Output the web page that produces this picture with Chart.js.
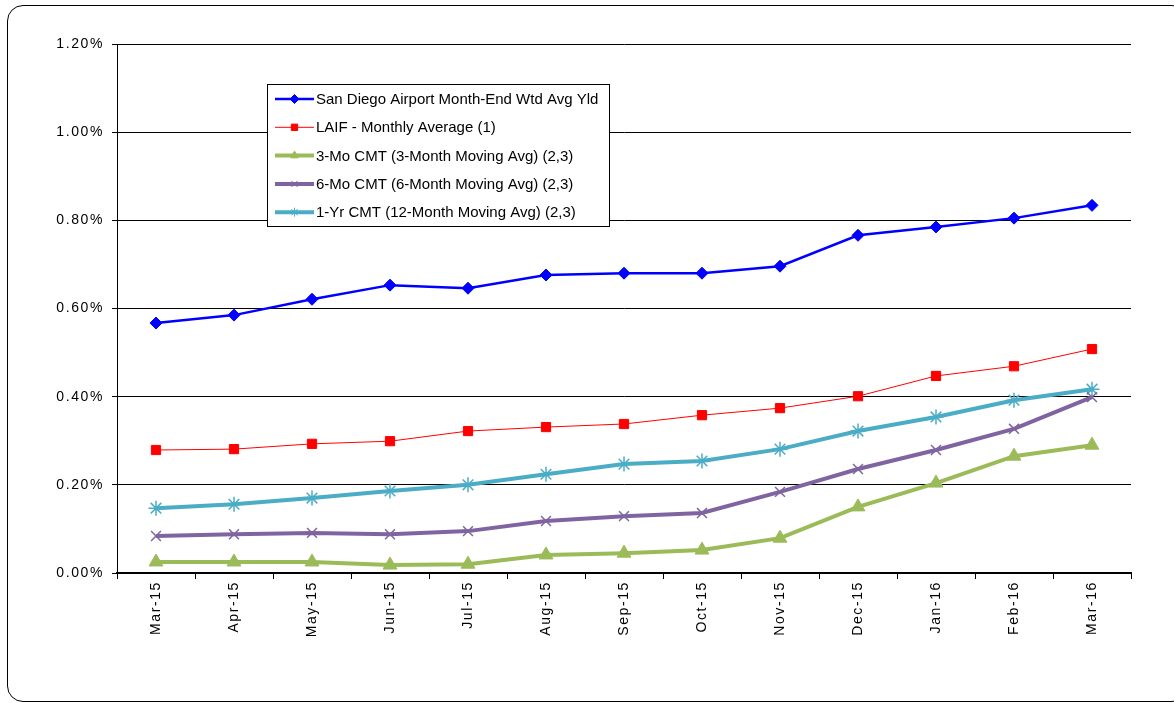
<!DOCTYPE html>
<html>
<head>
<meta charset="utf-8">
<script src="https://cdn.jsdelivr.net/npm/chart.js@4/dist/chart.umd.min.js"></script>
<style>
  html, body { margin: 0; padding: 0; background: #fff; overflow: hidden; }
  #wrap { position: relative; width: 1174px; height: 703px; overflow: hidden; }
  #frame { position: absolute; left: 7px; top: 5px; width: 1181px; height: 697px;
           border: 1px solid #000; border-radius: 16px; box-sizing: border-box; }
  canvas { position: absolute; left: 0; top: 0; }
</style>
</head>
<body>
<div id="wrap">
  <div id="frame"></div>
  <canvas id="chart" width="1174" height="703"></canvas>
</div>
<script>
// data (percent)
const months = ["Mar-15","Apr-15","May-15","Jun-15","Jul-15","Aug-15","Sep-15","Oct-15","Nov-15","Dec-15","Jan-16","Feb-16","Mar-16"];
const sanDiego = [0.567,0.585,0.621,0.653,0.646,0.676,0.680,0.680,0.696,0.766,0.785,0.805,0.834];
const laif     = [0.279,0.281,0.293,0.299,0.322,0.331,0.338,0.358,0.374,0.401,0.447,0.469,0.508];
const cmt3     = [0.025,0.025,0.025,0.018,0.020,0.041,0.045,0.052,0.079,0.150,0.204,0.265,0.290];
const cmt6     = [0.084,0.088,0.091,0.088,0.095,0.118,0.129,0.136,0.184,0.236,0.279,0.327,0.399];
const cmt12    = [0.147,0.156,0.170,0.186,0.200,0.224,0.247,0.254,0.281,0.322,0.354,0.392,0.417];
const seriesNames = [
  "San Diego Airport Month-End Wtd Avg Yld",
  "LAIF - Monthly Average (1)",
  "3-Mo CMT (3-Month Moving Avg) (2,3)",
  "6-Mo CMT (6-Month Moving Avg) (2,3)",
  "1-Yr CMT (12-Month Moving Avg) (2,3)"
];

const FONT = "'Liberation Sans', Arial, sans-serif";

// axis text in the original is spaced out a bit
const spacedTicks = {
  id: "spacedTicks",
  beforeDraw(chart){ chart.ctx.letterSpacing = "1.6px"; },
  beforeDatasetsDraw(chart){ chart.ctx.letterSpacing = "0px"; }
};

// legend box drawn inside the plot, like the original
const boxLegend = {
  id: "boxLegend",
  afterDraw(chart){
    const ctx = chart.ctx;
    const x0 = 267, y0 = 84, w = 342, h = 142;
    ctx.save();
    ctx.letterSpacing = "0px";
    ctx.fillStyle = "#fff";
    ctx.fillRect(x0, y0, w, h);
    ctx.strokeStyle = "#000";
    ctx.lineWidth = 1;
    ctx.strokeRect(x0 + 0.5, y0 + 0.5, w, h);
    ctx.font = "15px " + FONT;
    ctx.textBaseline = "middle";
    chart.data.datasets.forEach((ds, i) => {
      const y = 99 + i * 28.3;
      ctx.strokeStyle = ds.borderColor;
      ctx.lineWidth = ds.borderWidth;
      ctx.beginPath();
      ctx.moveTo(275, y);
      ctx.lineTo(314, y);
      ctx.stroke();
      ctx.fillStyle = ds.borderColor;
      ctx.lineWidth = 1;
      Chart.helpers.drawPoint(ctx, {
        pointStyle: ds.pointStyle,
        radius: 4.5,
        rotation: 0,
        borderWidth: 1
      }, 294.5, y);
      ctx.fillStyle = "#000";
      ctx.fillText(ds.label, 316, y + 1);
    });
    ctx.restore();
  }
};

function series(label, data, color, width, style, radius){
  return {
    label: label, data: data,
    borderColor: color, backgroundColor: color,
    borderWidth: width,
    pointStyle: style, pointRadius: radius,
    pointBorderColor: color, pointBackgroundColor: color,
    pointBorderWidth: (style === "star" || style === "crossRot") ? 1.5 : 1,
    tension: 0
  };
}

new Chart(document.getElementById("chart"), {
  type: "line",
  data: {
    labels: months,
    datasets: [
      series(seriesNames[0], sanDiego, "#0000ff", 2.5, "rectRot", 6),
      series(seriesNames[1], laif, "#ff0000", 1, "rect", 6.5),
      series(seriesNames[2], cmt3, "#9bbb59", 4, "triangle", 8),
      series(seriesNames[3], cmt6, "#8064a2", 4, "crossRot", 7),
      series(seriesNames[4], cmt12, "#4bacc6", 4, "star", 7.5)
    ]
  },
  options: {
    responsive: false,
    animation: false,
    layout: { padding: { left: 0, top: 44, right: 43, bottom: 0 } },
    plugins: { legend: { display: false }, tooltip: { enabled: false } },
    scales: {
      x: {
        offset: true,
        afterFit(scale){ scale.height = 130; },
        grid: { offset: true, drawOnChartArea: false, drawTicks: true, tickLength: 6, color: "#000", lineWidth: 1 },
        border: { color: "#000", width: 2 },
        ticks: { maxRotation: 90, minRotation: 90, autoSkip: false, padding: 2,
                 color: "#000", font: { family: FONT, size: 14 } }
      },
      y: {
        min: 0, max: 1.2,
        afterFit(scale){ scale.width = 117; },
        grid: { color: "#000", lineWidth: 1, tickLength: 5, drawTicks: true },
        border: { color: "#000", width: 1 },
        ticks: { stepSize: 0.2, padding: 8, color: "#000", font: { family: FONT, size: 14 },
                 callback: v => v.toFixed(2) + "%" }
      }
    }
  },
  plugins: [spacedTicks, boxLegend]
});
</script>
</body>
</html>
